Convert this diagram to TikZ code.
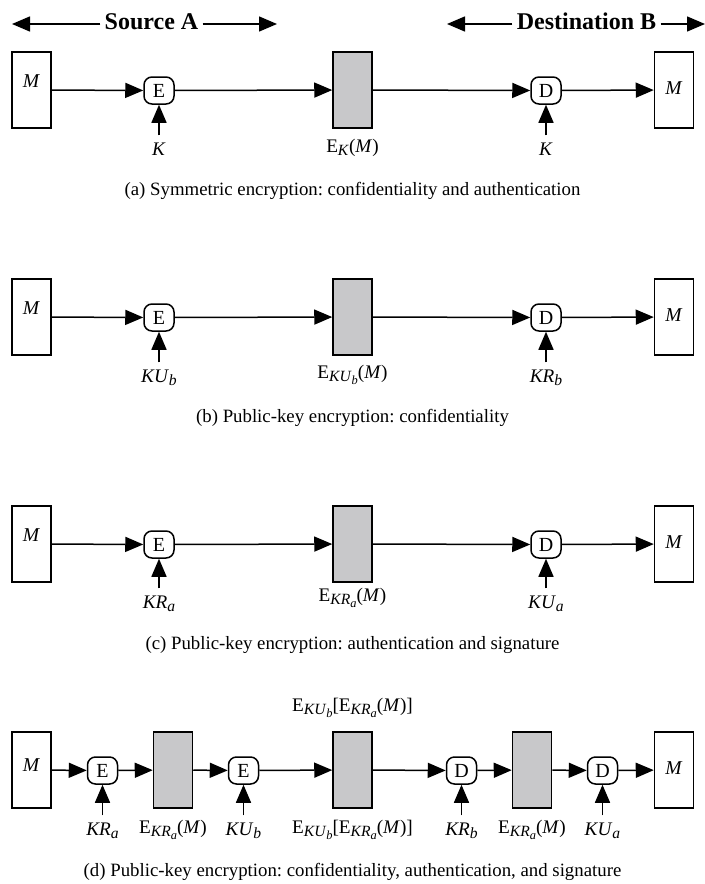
\documentclass[tikz,border=0pt]{standalone}
\usepackage{fontspec}
\setmainfont{Liberation Serif}
\usepackage{tikz}
\usetikzlibrary{arrows.meta}
\frenchspacing
\definecolor{blockgray}{RGB}{200,200,202}
\tikzstyle{nodoMsg} = [rectangle, draw=black, line width=0.75pt, minimum width=19.5pt, minimum height=38pt, inner sep=0pt, font=\fontsize{9.8}{11}\selectfont]
\tikzstyle{nodoCipher} = [nodoMsg, fill=blockgray]
\tikzstyle{nodoOp} = [rectangle, rounded corners=4pt, draw=black, fill=white, line width=0.75pt, minimum width=15pt, minimum height=13.5pt, inner sep=0pt, font=\fontsize{10}{11}\selectfont]
\tikzstyle{nodoTxt} = [anchor=base, font=\fontsize{9.6}{11}\selectfont]
\tikzstyle{nodoCap} = [anchor=base, font=\fontsize{9.4}{11}\selectfont]
\tikzstyle{nodoHead} = [anchor=base, inner sep=2pt, font=\fontsize{12}{14}\selectfont\bfseries]
\tikzstyle{linkArr} = [line width=0.75pt, -{Triangle[length=9pt, width=7.5pt]}]
\newcommand{\msgtxt}[1]{\raisebox{#1}[0pt][0pt]{\textit{M}}}
\newcommand{\subA}[1]{\raisebox{-0.45ex}{\fontsize{7.8}{8}\selectfont #1}}
\newcommand{\subB}[1]{\raisebox{-0.4ex}{\fontsize{6.2}{7}\selectfont #1}}
\newcommand{\keytxt}[2]{\textit{#1}\subA{\textit{#2}}}

\begin{document}
\begin{tikzpicture}[x=0.5pt, y=-0.5pt]
    \useasboundingbox (0,0) rectangle (705,884);

    % header
    \node (SrcA) [nodoHead] at (151.5,29) {Source A};
    \coordinate (SrcAl) at (12,24);
    \coordinate (SrcAr) at (277,24);
    \draw [linkArr] (SrcA.west |- SrcAl) -- (SrcAl);
    \draw [linkArr] (SrcA.east |- SrcAr) -- (SrcAr);
    \node (DstB) [nodoHead] at (586.5,29) {Destination B};
    \coordinate (DstBl) at (447,24);
    \coordinate (DstBr) at (705,24);
    \draw [linkArr] (DstB.west |- DstBl) -- (DstBl);
    \draw [linkArr] (DstB.east |- DstBr) -- (DstBr);

    % (a)
    \node (Ma) [nodoMsg] at (31.5,90) {\msgtxt{1.3pt}};
    \node (Ea) [nodoOp] at (159,90.5) {E};
    \node (Ca) [nodoCipher] at (352.5,90) {};
    \node (Da) [nodoOp] at (546,90.5) {D};
    \node (MBa) [nodoMsg] at (674,90) {\msgtxt{-2pt}};
    \node (KEa) [nodoTxt] at (159,155) {\textit{K}};
    \node (KDa) [nodoTxt] at (546,155) {\textit{K}};
    \node (CaVoid) [nodoTxt] at (352.5,152) {E\subA{\textit{K}}(\textit{M})};
    \draw [linkArr] (Ma) -- (Ea);
    \draw [linkArr] (Ea) -- (Ca);
    \draw [linkArr] (Ca) -- (Da);
    \draw [linkArr] (Da) -- (MBa);
    \draw [linkArr] (KEa) -- (Ea);
    \draw [linkArr] (KDa) -- (Da);
    \node (CapA) [nodoCap] at (352.5,195) {(a) Symmetric encryption: confidentiality and authentication};

    % (b)
    \node (Mb) [nodoMsg] at (31.5,317) {\msgtxt{1.3pt}};
    \node (Eb) [nodoOp] at (159,317.5) {E};
    \node (Cb) [nodoCipher] at (352.5,317) {};
    \node (Db) [nodoOp] at (546,317.5) {D};
    \node (MBb) [nodoMsg] at (674,317) {\msgtxt{-2pt}};
    \node (KEb) [nodoTxt] at (159,382) {\keytxt{KU}{b}};
    \node (KDb) [nodoTxt] at (546,382) {\keytxt{KR}{b}};
    \node (CbVoid) [nodoTxt] at (352.5,378) {E\subA{\textit{KU}\subB{\textit{b}}}(\textit{M})};
    \draw [linkArr] (Mb) -- (Eb);
    \draw [linkArr] (Eb) -- (Cb);
    \draw [linkArr] (Cb) -- (Db);
    \draw [linkArr] (Db) -- (MBb);
    \draw [linkArr] (KEb) -- (Eb);
    \draw [linkArr] (KDb) -- (Db);
    \node (CapB) [nodoCap] at (352.5,422) {(b) Public-key encryption: confidentiality};

    % (c)
    \node (Mc) [nodoMsg] at (31.5,544) {\msgtxt{1.3pt}};
    \node (Ec) [nodoOp] at (159,544.5) {E};
    \node (Cc) [nodoCipher] at (352.5,544) {};
    \node (Dc) [nodoOp] at (546,544.5) {D};
    \node (MBc) [nodoMsg] at (674,544) {\msgtxt{-2pt}};
    \node (KEc) [nodoTxt] at (159,608) {\keytxt{KR}{a}};
    \node (KDc) [nodoTxt] at (546,608) {\keytxt{KU}{a}};
    \node (CcVoid) [nodoTxt] at (352.5,601) {E\subA{\textit{KR}\subB{\textit{a}}}(\textit{M})};
    \draw [linkArr] (Mc) -- (Ec);
    \draw [linkArr] (Ec) -- (Cc);
    \draw [linkArr] (Cc) -- (Dc);
    \draw [linkArr] (Dc) -- (MBc);
    \draw [linkArr] (KEc) -- (Ec);
    \draw [linkArr] (KDc) -- (Dc);
    \node (CapC) [nodoCap] at (352.5,649) {(c) Public-key encryption: authentication and signature};

    % (d)
    \node (Md) [nodoMsg] at (31.5,770) {\msgtxt{-0.6pt}};
    \node (E1d) [nodoOp] at (102.5,770.5) {E};
    \node (C1d) [nodoCipher] at (173,770) {};
    \node (E2d) [nodoOp] at (243.5,770.5) {E};
    \node (C2d) [nodoCipher] at (352.5,770) {};
    \node (D1d) [nodoOp] at (461.5,770.5) {D};
    \node (C3d) [nodoCipher] at (532,770) {};
    \node (D2d) [nodoOp] at (602.5,770.5) {D};
    \node (MBd) [nodoMsg] at (674,770) {\msgtxt{-2pt}};
    \node (K1d) [nodoTxt] at (102.5,835) {\keytxt{KR}{a}};
    \node (K2d) [nodoTxt] at (243.5,835) {\keytxt{KU}{b}};
    \node (K3d) [nodoTxt] at (461.5,835) {\keytxt{KR}{b}};
    \node (K4d) [nodoTxt] at (602.5,835) {\keytxt{KU}{a}};
    \node (C1dVoid) [nodoTxt] at (173,833) {E\subA{\textit{KR}\subB{\textit{a}}}(\textit{M})};
    \node (C2dVoid) [nodoTxt] at (352.5,833) {E\subA{\textit{KU}\subB{\textit{b}}}[E\subA{\textit{KR}\subB{\textit{a}}}(\textit{M})]};
    \node (C2dTop) [nodoTxt] at (352.5,711) {E\subA{\textit{KU}\subB{\textit{b}}}[E\subA{\textit{KR}\subB{\textit{a}}}(\textit{M})]};
    \node (C3dVoid) [nodoTxt] at (532,833) {E\subA{\textit{KR}\subB{\textit{a}}}(\textit{M})};
    \draw [linkArr] (Md) -- (E1d);
    \draw [linkArr] (E1d) -- (C1d);
    \draw [linkArr] (C1d) -- (E2d);
    \draw [linkArr] (E2d) -- (C2d);
    \draw [linkArr] (C2d) -- (D1d);
    \draw [linkArr] (D1d) -- (C3d);
    \draw [linkArr] (C3d) -- (D2d);
    \draw [linkArr] (D2d) -- (MBd);
    \draw [linkArr] (K1d) -- (E1d);
    \draw [linkArr] (K2d) -- (E2d);
    \draw [linkArr] (K3d) -- (D1d);
    \draw [linkArr] (K4d) -- (D2d);
    \node (CapD) [nodoCap] at (352.5,876) {(d) Public-key encryption: confidentiality, authentication, and signature};
\end{tikzpicture}
\end{document}
